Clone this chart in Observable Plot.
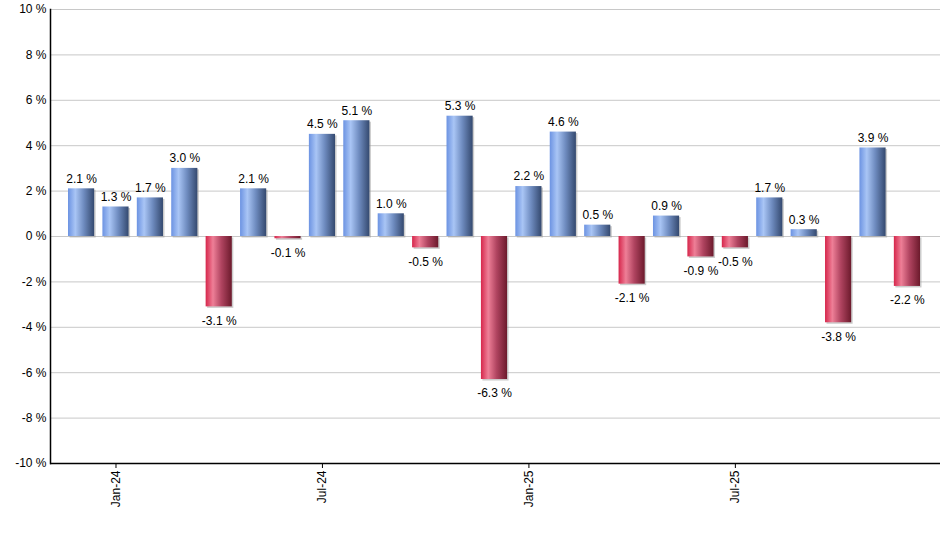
<!DOCTYPE html>
<html>
<head>
<meta charset="utf-8">
<script src="https://cdn.jsdelivr.net/npm/d3@7"></script>
<script src="https://cdn.jsdelivr.net/npm/@observablehq/plot@0.6"></script>
<style>
  html, body { margin: 0; padding: 0; background: #fff; }
  #chart svg { display: block; }
</style>
</head>
<body>
<div id="chart"></div>
<script>
const months = ["Dec-23","Jan-24","Feb-24","Mar-24","Apr-24","May-24","Jun-24","Jul-24","Aug-24","Sep-24","Oct-24","Nov-24","Dec-24","Jan-25","Feb-25","Mar-25","Apr-25","May-25","Jun-25","Jul-25","Aug-25","Sep-25","Oct-25","Nov-25","Dec-25"];
const values = [2.1, 1.3, 1.7, 3.0, -3.1, 2.1, -0.1, 4.5, 5.1, 1.0, -0.5, 5.3, -6.3, 2.2, 4.6, 0.5, -2.1, 0.9, -0.9, -0.5, 1.7, 0.3, -3.8, 3.9, -2.2];
const xTicks = ["Jan-24","Jul-24","Jan-25","Jul-25"];
const yTicks = [-10, -8, -6, -4, -2, 0, 2, 4, 6, 8, 10];

const data = months.map((m, i) => ({month: m, value: values[i]}));
const pos = data.filter(d => d.value >= 0);
const neg = data.filter(d => d.value < 0);

const defs = () => {
  const ns = "http://www.w3.org/2000/svg";
  const g = document.createElementNS(ns, "defs");
  g.innerHTML = `
    <linearGradient id="gBlue" x1="0" x2="1" y1="0" y2="0">
      <stop offset="0" stop-color="#6c93e2"/>
      <stop offset="0.28" stop-color="#a9c5f5"/>
      <stop offset="0.6" stop-color="#6f8cc0"/>
      <stop offset="1" stop-color="#34496f"/>
    </linearGradient>
    <linearGradient id="gRed" x1="0" x2="1" y1="0" y2="0">
      <stop offset="0" stop-color="#d6264b"/>
      <stop offset="0.28" stop-color="#ee7f97"/>
      <stop offset="0.6" stop-color="#b04460"/>
      <stop offset="1" stop-color="#6c1a2c"/>
    </linearGradient>`;
  return g;
};

const chart = Plot.plot({
  width: 940,
  height: 550,
  marginTop: 9,
  marginBottom: 87,
  marginLeft: 50,
  marginRight: 0,
  style: {fontFamily: "Arial, 'Liberation Sans', sans-serif", fontSize: "12px", color: "#000", background: "#fff"},
  x: {type: "band", domain: months, range: [68, 920], paddingInner: 0.24, paddingOuter: 0, round: false},
  y: {domain: [-10, 10]},
  marks: [
    defs,
    Plot.gridY(yTicks, {stroke: "#c8c8c8", strokeOpacity: 1}),
    Plot.barY(data, {x: "month", y: "value", fill: "#9a9a9a", fillOpacity: 0.5, dx: 1.5, dy: 1.5}),
    Plot.barY(pos, {x: "month", y: "value", fill: "url(#gBlue)"}),
    Plot.barY(neg, {x: "month", y: "value", fill: "url(#gRed)"}),
    Plot.text(pos, {x: "month", y: "value", text: d => d.value.toFixed(1) + " %", dy: -10, fill: "#000", fontSize: 12}),
    Plot.text(neg, {x: "month", y: "value", text: d => d.value.toFixed(1) + " %", dy: 14, fill: "#000", fontSize: 12}),
    Plot.axisY({ticks: yTicks, tickFormat: d => d + " %", tickSize: 0, tickPadding: 4, label: null, fontSize: 12}),
    Plot.axisX({ticks: xTicks, tickRotate: -90, tickSize: 5, tickPadding: 2, label: null, fontSize: 12}),
    Plot.ruleY([-10], {stroke: "#000", strokeWidth: 1.5}),
    Plot.frame({anchor: "left", stroke: "#000", strokeWidth: 1.5})
  ]
});
document.getElementById("chart").appendChild(chart);
</script>
</body>
</html>
